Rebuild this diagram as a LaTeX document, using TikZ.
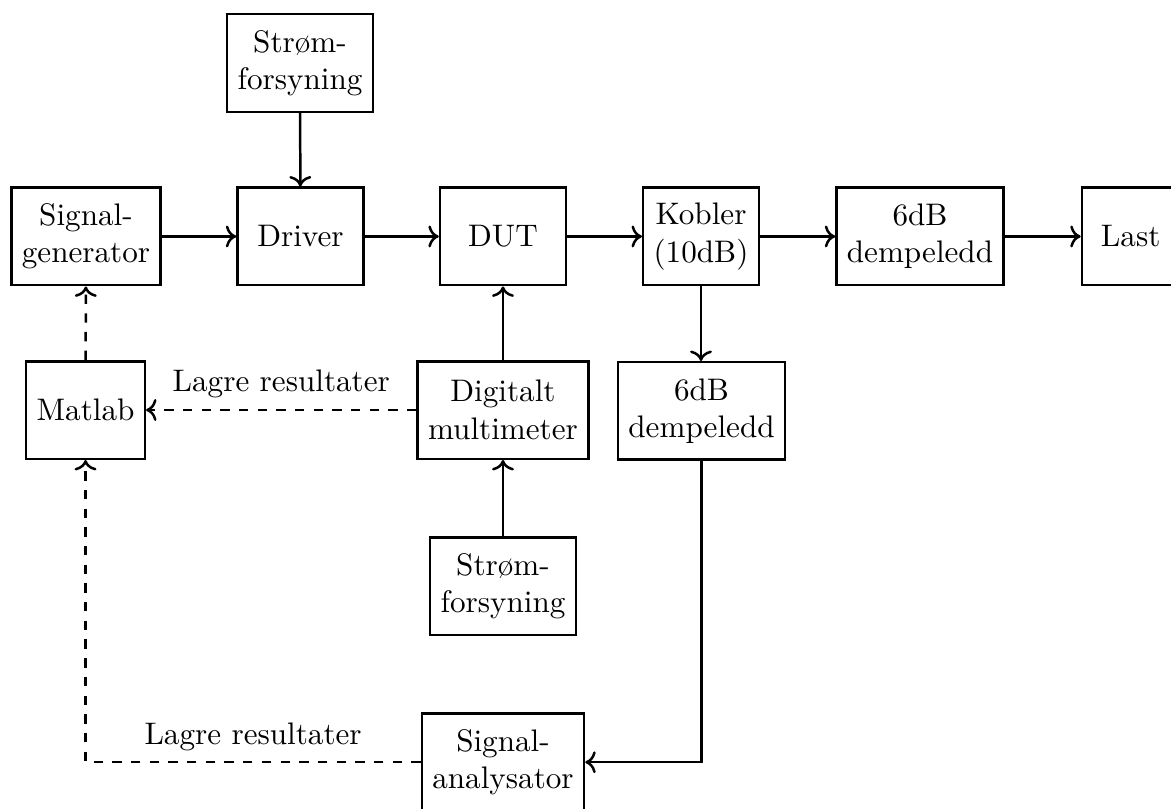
\documentclass[tikz,border=0pt]{standalone}
\usepackage{tikz}
\usetikzlibrary{arrows.meta, positioning, calc}

\begin{document}
\begin{tikzpicture}[
  block/.style={
    rectangle,
    draw,
    thick,
    minimum height=1.1cm,
    align=center
  },
  wide/.style={minimum width=1.42cm},
  link/.style={thick, ->},
  savelink/.style={thick, dashed, ->}
]
  \useasboundingbox (0,0) rectangle (13.212,-9.117);

  % Row 1
  \node[block] (supplytop) at (3.385,-0.711) {Strøm-\\forsyning};

  % Row 2
  \node[block] (siggen) at (0.970,-2.668) {Signal-\\generator};
  \node[block, wide] (driver) at (3.390,-2.668) {Driver};
  \node[block, wide] (dut) at (5.675,-2.668) {DUT};
  \node[block] (coupler) at (7.909,-2.668) {Kobler\\(10dB)};
  \node[block] (attnright) at (10.380,-2.668) {6dB\\dempeledd};
  \node[block, minimum width=1.1cm] (load) at (12.757,-2.668) {Last};

  % Row 3
  \node[block] (matlab) at (0.965,-4.626) {Matlab};
  \node[block] (dmm) at (5.675,-4.626) {Digitalt\\multimeter};
  \node[block] (attnlow) at (7.915,-4.637) {6dB\\dempeledd};

  % Row 4
  \node[block] (supplylow) at (5.675,-6.612) {Strøm-\\forsyning};

  % Row 5
  \node[block] (analyser) at (5.675,-8.60) {Signal-\\analysator};

  % Signal path
  \draw[link] (supplytop) -- (driver);
  \draw[link] (siggen) -- (driver);
  \draw[link] (driver) -- (dut);
  \draw[link] (dut) -- (coupler);
  \draw[link] (coupler) -- (attnright);
  \draw[link] (attnright) -- (load);
  \draw[link] (coupler.south) -- (coupler.south |- attnlow.north);
  \draw[link] (attnlow.south) |- (analyser.east);

  % Measurement
  \draw[link] (dmm) -- (dut);
  \draw[link] (supplylow) -- (dmm);

  % Storing results
  \draw[savelink] (matlab) -- (siggen);
  \draw[savelink] (dmm) -- node[above] {Lagre resultater} (matlab);
  \draw[savelink] (analyser.west) -| node[pos=0.25, above] {Lagre resultater} (matlab.south);
\end{tikzpicture}
\end{document}
